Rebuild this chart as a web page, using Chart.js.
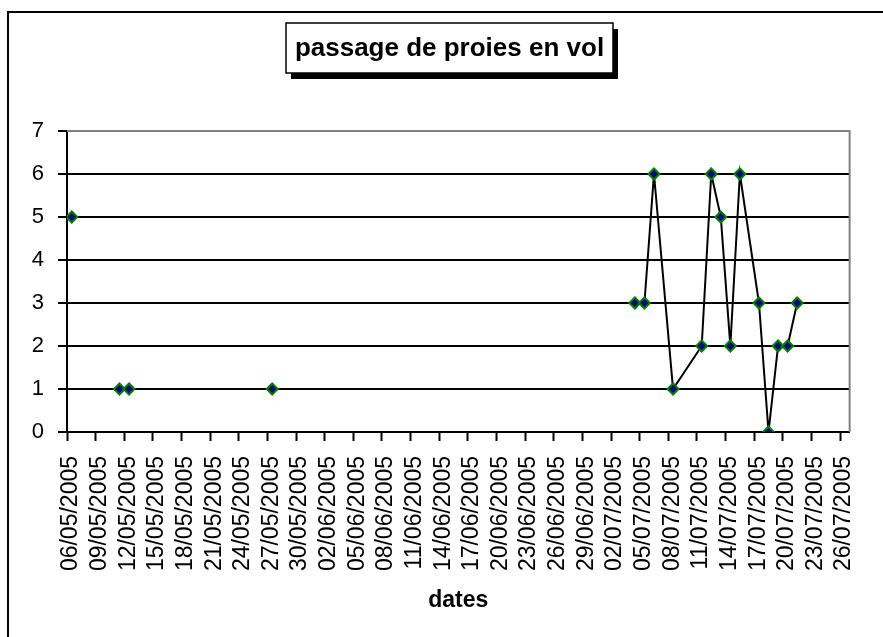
<!DOCTYPE html>
<html>
<head>
<meta charset="utf-8">
<title>passage de proies en vol</title>
<script src="https://cdn.jsdelivr.net/npm/chart.js@4.4.1/dist/chart.umd.min.js"></script>
<style>
  html, body { margin: 0; padding: 0; background: #fff; }
  #wrap { width: 883px; height: 637px; position: relative; }
</style>
</head>
<body>
<div id="wrap"><canvas id="chart" width="883" height="637"></canvas></div>
<script>
/* ----- donnees ----- */
const chartTitle = 'passage de proies en vol';
const xTitle = 'dates';
const firstDay = '06/05/2005';
// dates d'observation (null = pas de releve, la ligne est coupee)
const obsDates = [
  '06/05/2005', '09/05/2005', '11/05/2005', '12/05/2005', '20/05/2005', '27/05/2005', '15/06/2005',
  '04/07/2005', '05/07/2005', '06/07/2005', '08/07/2005', '11/07/2005', '12/07/2005', '13/07/2005',
  '14/07/2005', '15/07/2005', '17/07/2005', '18/07/2005', '19/07/2005', '20/07/2005', '21/07/2005'
];
const passages = [
  5, null, 1, 1, null, 1, null,
  3, 3, 6, 1, 2, 6, 5,
  2, 6, 3, 0, 2, 2, 3
];
const tickLabels = [
  '06/05/2005', '09/05/2005', '12/05/2005', '15/05/2005', '18/05/2005', '21/05/2005', '24/05/2005',
  '27/05/2005', '30/05/2005', '02/06/2005', '05/06/2005', '08/06/2005', '11/06/2005', '14/06/2005',
  '17/06/2005', '20/06/2005', '23/06/2005', '26/06/2005', '29/06/2005', '02/07/2005', '05/07/2005',
  '08/07/2005', '11/07/2005', '14/07/2005', '17/07/2005', '20/07/2005', '23/07/2005', '26/07/2005'
];
const yMax = 7;
const lastDay = 82; // l'axe va jusqu'au 27/07

/* ----- conversion date -> jour ----- */
function toDay(s) {
  const [d, m, y] = s.split('/').map(Number);
  const [d0, m0, y0] = firstDay.split('/').map(Number);
  return (Date.UTC(y, m - 1, d) - Date.UTC(y0, m0 - 1, d0)) / 86400000;
}
const points = obsDates.map((s, i) => ({ x: toDay(s) + 0.5, y: passages[i] }));
const tickDays = tickLabels.map(toDay);

const FONT = '"Liberation Sans", Arial, sans-serif';

/* ----- cadre + titre encadre ----- */
const framePlugin = {
  id: 'framePlugin',
  beforeDraw(chart) {
    const c = chart.ctx;
    c.save();
    c.fillStyle = '#fff';
    c.fillRect(0, 0, chart.width, chart.height);
    c.restore();
  },
  beforeDatasetsDraw(chart) {
    const c = chart.ctx, a = chart.chartArea;
    c.save();
    c.strokeStyle = '#808080';
    c.lineWidth = 2;
    c.beginPath();
    c.moveTo(a.left, a.top);
    c.lineTo(a.right, a.top);
    c.lineTo(a.right, a.bottom);
    c.stroke();
    c.restore();
  },
  afterDraw(chart) {
    const c = chart.ctx;
    c.save();
    // cadre exterieur
    c.strokeStyle = '#000';
    c.lineWidth = 2;
    c.strokeRect(8, 12, 1000, 1000);
    // titre
    const bx = 286, by = 23, bw = 327, bh = 50;
    c.fillStyle = '#000';
    c.fillRect(bx + 5, by + 6, bw, bh);
    c.fillStyle = '#fff';
    c.fillRect(bx, by, bw, bh);
    c.lineWidth = 1.5;
    c.strokeRect(bx, by, bw, bh);
    c.fillStyle = '#000';
    c.font = 'bold 26px ' + FONT;
    c.textAlign = 'center';
    c.textBaseline = 'middle';
    c.fillText(chartTitle, bx + bw / 2, by + bh / 2 + 1);
    c.restore();
  }
};

const ctx = document.getElementById('chart').getContext('2d');
new Chart(ctx, {
  type: 'line',
  data: {
    datasets: [{
      label: chartTitle,
      data: points,
      borderColor: '#000',
      borderWidth: 2,
      tension: 0,
      spanGaps: false,
      pointStyle: 'rectRot',
      pointRadius: 5.5,
      pointBackgroundColor: '#000080',
      pointBorderColor: '#008000',
      pointBorderWidth: 2
    }]
  },
  options: {
    responsive: false,
    animation: false,
    events: [],
    layout: { padding: { top: 131, right: 25, left: 0, bottom: 0 } },
    plugins: { legend: { display: false }, title: { display: false }, tooltip: { enabled: false } },
    scales: {
      x: {
        type: 'linear',
        min: 0,
        max: lastDay,
        afterBuildTicks(scale) { scale.ticks = tickDays.map(v => ({ value: v })); },
        afterFit(scale) { scale.height = 205; },
        grid: { drawOnChartArea: false, drawTicks: true, tickLength: 9, tickColor: '#000', tickWidth: 2 },
        border: { color: '#000', width: 2 },
        ticks: {
          autoSkip: false,
          maxRotation: 90,
          minRotation: 90,
          padding: 15,
          labelOffset: 4,
          color: '#000',
          font: { family: FONT, size: 23 },
          callback: (v) => tickLabels[tickDays.indexOf(v)]
        },
        title: {
          display: true,
          text: xTitle,
          color: '#000',
          font: { family: FONT, size: 23, weight: 'bold' },
          padding: { top: 0, bottom: 23 }
        }
      },
      y: {
        min: 0,
        max: yMax,
        afterFit(scale) { scale.width = 67; },
        grid: {
          color: (c) => (c.tick && c.tick.value === yMax ? '#808080' : '#000'),
          lineWidth: 2,
          tickLength: 9,
          tickColor: '#000',
          tickWidth: 2
        },
        border: { color: '#000', width: 2 },
        ticks: {
          stepSize: 1,
          padding: 14,
          color: '#000',
          font: { family: FONT, size: 22 }
        }
      }
    }
  },
  plugins: [framePlugin]
});
</script>
</body>
</html>
